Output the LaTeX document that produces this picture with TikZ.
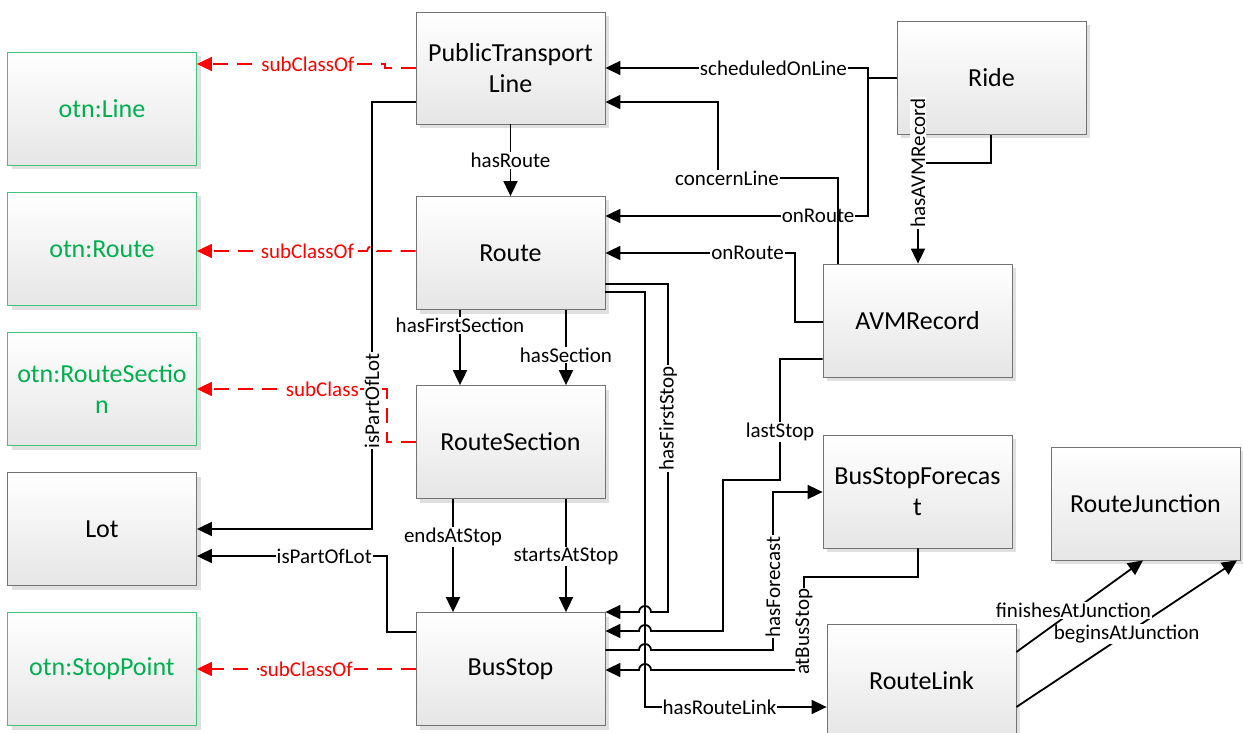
\documentclass[tikz,border=0pt]{standalone}
\usepackage{fontspec}
\setmainfont{Carlito}
\usetikzlibrary{arrows.meta,shadows}
\definecolor{otngreen}{RGB}{0,176,80}
\tikzset{
  cls/.style={draw=black!55, line width=0.8pt, top color=white, bottom color=black!10,
    minimum width=189pt, minimum height=113pt, inner sep=2pt, align=center,
    font=\fontsize{26}{31}\selectfont,
    drop shadow={shadow xshift=4pt, shadow yshift=-4pt, fill=black!12, opacity=1}},
  otn/.style={cls, draw=otngreen!75, text=otngreen},
  rel/.style={line width=1.8pt, -{Triangle[length=15pt,width=14pt]}},
  sub/.style={rel, red, dash pattern=on 15pt off 9pt},
  lbl/.style={fill=white, inner sep=1pt, font=\fontsize{21}{24}\selectfont, text=black},
}

\begin{document}
\begin{tikzpicture}[x=1pt,y=-1pt]
			%%%%% START %%%%%
			\useasboundingbox (0,0) rectangle (1243,733);
			
			% left column
			\node[otn] (otnline) at (102,109) {otn:Line};
			\node[otn] (otnroute) at (102,249) {otn:Route};
			\node[otn] (otnsection) at (102,389) {otn:RouteSectio\\n};
			\node[cls] (lot) at (102,529) {Lot};
			\node[otn] (otnstop) at (102,669) {otn:StopPoint};
			
			% middle column
			\node[cls, minimum height=112pt] (ptl) at (510.5,68) {PublicTransport\\Line};
			\node[cls] (route) at (510.5,253) {Route};
			\node[cls] (section) at (510.5,442) {RouteSection};
			\node[cls] (busstop) at (510.5,669) {BusStop};
			
			% right part
			\node[cls] (ride) at (991.5,78) {Ride};
			\node[cls] (avm) at (917.5,320.5) {AVMRecord};
			\node[cls] (forecast) at (917.5,491.5) {BusStopForecas\\t};
			\node[cls] (junction) at (1145.5,503.5) {RouteJunction};
			\node[cls] (link) at (921.5,681) {RouteLink};
			
			% subClassOf
			\draw[sub] (ptl.west |- 0,68) -- (385,68) -- (385,64) -- node[lbl, text=red, pos=0.41] (sc1) {subClassOf} (otnline.east |- 0,64);
			\draw[sub] (route.west |- 0,251) -- (377,251) arc[start angle=0, end angle=180, radius=5pt] -- node[lbl, text=red, pos=0.35] (sc2) {subClassOf} (otnroute.east |- 0,251);
			\draw[sub] (section.west |- 0,442) -- (387,442) -- (387,389) -- node[lbl, text=red, pos=0.34] (sc3) {subClass} (otnsection.east |- 0,389);
			\draw[sub] (busstop.west |- 0,669) -- node[lbl, text=red, pos=0.5] (sc4) {subClassOf} (otnstop.east |- 0,669);
			
			% isPartOfLot
			\draw[rel] (ptl.west |- 0,102) -- (372,102) -- node[lbl, rotate=90, pos=0.70] (pl1) {isPartOfLot} (372,529) -- (lot.east |- 0,529);
			\draw[rel] (busstop.west |- 0,632) -- (387,632) -- (387,556) -- node[lbl, pos=0.33] (pl2) {isPartOfLot} (lot.east |- 0,556);
			
			% down the middle column
			\draw[rel] (ptl.south) -- node[lbl] (hr) {hasRoute} (route.north);
			\draw[rel] (route.south -| 460,0) -- node[lbl, pos=0.21] (hfs) {hasFirstSection} (section.north -| 460,0);
			\draw[rel] (route.south -| 566,0) -- node[lbl, pos=0.6] (hs) {hasSection} (section.north -| 566,0);
			\draw[rel] (section.south -| 453,0) -- node[lbl, pos=0.34] (eas) {endsAtStop} (busstop.north -| 453,0);
			\draw[rel] (section.south -| 566,0) -- node[lbl, pos=0.51] (sas) {startsAtStop} (busstop.north -| 566,0);
			
			% Ride and AVMRecord
			\draw[rel] (ride.west |- 0,78) -- (868,78) -- (868,68) -- node[lbl, pos=0.36] (sol) {scheduledOnLine} (ptl.east |- 0,68);
			\draw[rel] (ride.west |- 0,78) -- (868,78) -- (868,216) -- node[lbl, pos=0.19] (or1) {onRoute} (route.east |- 0,216);
			\draw[rel] (avm.north -| 838,0) -- (838,178) -- node[lbl, pos=0.925] (cl) {concernLine} (718,178) -- (718,102) -- (ptl.east |- 0,102);
			\draw[rel] (avm.west |- 0,322) -- (795,322) -- (795,253) -- node[lbl, pos=0.25] (or2) {onRoute} (route.east |- 0,253);
			\draw[rel] (ride.south -| 991,0) -- (991,163) -- (918,163) -- node[lbl, rotate=90, pos=0] (har) {hasAVMRecord} (avm.north -| 918,0);
			
			% towards BusStop
			\draw[rel] (route.east |- 0,292) -- (645,292) -- (645,707) -- node[lbl, pos=0.41] (hrl) {hasRouteLink} (link.west |- 0,707);
			\draw[rel] (route.east |- 0,284) -- (668,284) -- node[lbl, rotate=90, pos=0.41] (hfst) {hasFirstStop} (668,612) -- (651,612) arc[start angle=0, end angle=180, radius=6pt] -- (busstop.east |- 0,612);
			\draw[rel] (avm.west |- 0,359) -- (780,359) -- node[lbl, pos=0.6] (ls) {lastStop} (780,480) -- (723,480) -- (723,631) -- (651,631) arc[start angle=0, end angle=180, radius=6pt] -- (busstop.east |- 0,631);
			\draw[rel] (busstop.east |- 0,650) -- (639,650) arc[start angle=180, end angle=0, radius=6pt] -- (773,650) -- node[lbl, rotate=90, pos=0.4] (hf) {hasForecast} (773,492) -- (forecast.west |- 0,492);
			\draw[rel] (forecast.south -| 918,0) -- (918,577) -- (804,577) -- node[lbl, rotate=90, pos=0.59] (abs) {atBusStop} (804,670) -- (651,670) arc[start angle=0, end angle=180, radius=6pt] -- (busstop.east |- 0,670);
			
			% RouteLink to RouteJunction
			\draw[rel] (link.east |- 0,707) -- node[lbl, pos=0.5] (baj) {beginsAtJunction} (junction.south -| 1237,0);
			\draw[rel] (link.east |- 0,652) -- node[lbl, pos=0.45] (faj) {finishesAtJunction} (junction.south -| 1143,0);
			
			%%%%% END %%%%%
\end{tikzpicture}
\end{document}
